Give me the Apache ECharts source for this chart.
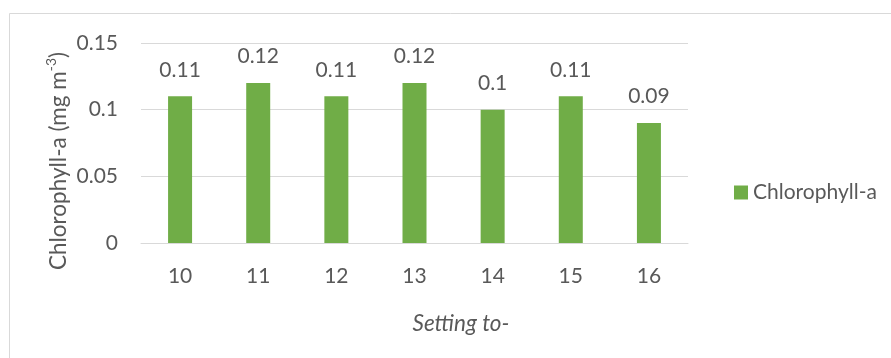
<!DOCTYPE html>
<html>
<head>
<meta charset="utf-8">
<script src="https://cdn.jsdelivr.net/npm/echarts@6/dist/echarts.min.js"></script>
<style>
  html, body { margin: 0; padding: 0; background: #fff; }
  #chart { width: 891px; height: 358px; }
</style>
</head>
<body>
<div id="chart"></div>
<script>
// Chlorophyll-a by setting
const categories = ['10', '11', '12', '13', '14', '15', '16'];
const chlorophyll = [0.11, 0.12, 0.11, 0.12, 0.1, 0.11, 0.09];
const yTicks = [0, 0.05, 0.1, 0.15];

const textColor = '#595959';
const fontFamily = 'Lato, "Open Sans", sans-serif';
const labelSize = 21;
const titleSize = 22.5;

const chart = echarts.init(document.getElementById('chart'), null, { renderer: 'canvas' });

chart.setOption({
  animation: false,
  backgroundColor: '#fff',
  textStyle: { fontFamily: fontFamily, color: textColor },
  graphic: [
    {
      // chart-area frame
      type: 'rect',
      silent: true,
      shape: { x: 9.5, y: 13.5, width: 900, height: 360 },
      style: { fill: 'none', stroke: '#d9d9d9', lineWidth: 1 }
    },
    {
      // value axis title with superscript unit
      type: 'text',
      silent: true,
      x: 57, y: 161,
      rotation: Math.PI / 2,
      style: {
        text: '{n|Chlorophyll-a (mg m}{s|-3}{n|)}',
        align: 'center',
        verticalAlign: 'middle',
        rich: {
          n: { fontSize: titleSize, fontFamily: fontFamily, fill: textColor, lineHeight: 26, verticalAlign: 'bottom' },
          s: { fontSize: 14, fontFamily: fontFamily, fill: textColor, lineHeight: 26, verticalAlign: 'top' }
        }
      }
    },
    {
      // category axis title
      type: 'text',
      silent: true,
      x: 461, y: 324,
      style: {
        text: 'Setting to-',
        align: 'center',
        verticalAlign: 'middle',
        fontSize: titleSize,
        fontStyle: 'italic',
        fontFamily: fontFamily,
        fill: textColor
      }
    }
  ],
  grid: { left: 141, right: 203, top: 43, bottom: 115, containLabel: false },
  legend: {
    data: ['Chlorophyll-a'],
    left: 729, top: 177,
    orient: 'vertical',
    icon: 'rect',
    itemWidth: 14, itemHeight: 14,
    itemGap: 5,
    textStyle: { fontFamily: fontFamily, fontSize: labelSize, color: textColor }
  },
  xAxis: {
    type: 'category',
    data: categories,
    axisLine: { lineStyle: { color: '#d9d9d9', width: 1 } },
    axisTick: { show: false },
    axisLabel: { color: textColor, fontSize: labelSize, margin: 23, fontFamily: fontFamily }
  },
  yAxis: {
    type: 'value',
    min: 0, max: 0.15, interval: 0.05,
    axisLine: { show: false },
    axisTick: { show: false },
    splitLine: { lineStyle: { color: '#d9d9d9', width: 1 } },
    axisLabel: {
      color: textColor, fontSize: labelSize, margin: 23, fontFamily: fontFamily,
      formatter: function (v) {
        const t = yTicks.find(function (k) { return Math.abs(k - v) < 1e-9; });
        return t === undefined ? '' : String(t);
      }
    }
  },
  series: [{
    name: 'Chlorophyll-a',
    type: 'bar',
    data: chlorophyll,
    barWidth: 24,
    itemStyle: { color: '#70ad47' },
    label: {
      show: true,
      position: 'top',
      distance: 16,
      color: textColor,
      fontSize: labelSize,
      fontFamily: fontFamily
    }
  }]
});
</script>
</body>
</html>
